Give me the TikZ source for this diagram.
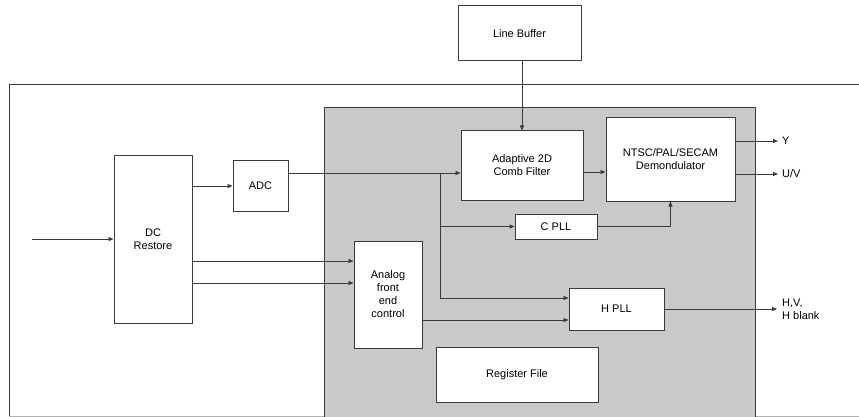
\documentclass[tikz,border=0pt]{standalone}
\usepackage{fontspec}
\setmainfont{Liberation Sans}
\usetikzlibrary{arrows.meta}
\definecolor{panel}{HTML}{C8C9CB}
\definecolor{ink}{HTML}{3A3A3A}
\tikzset{
  box/.style={draw=ink, line width=1pt, fill=white, rectangle, inner sep=0pt, align=center, font=\fontsize{11}{13}\selectfont},
  conn/.style={draw=ink, line width=0.8pt, -{Triangle[length=5pt,width=4pt]}},
  plain/.style={draw=ink, line width=0.8pt},
  lbl/.style={font=\fontsize{11}{13}\selectfont, inner sep=0pt, align=left, anchor=west}
}
\begin{document}
\begin{tikzpicture}[x=1pt,y=-1pt]
\useasboundingbox (0,0) rectangle (859,417);
% outer frame
\draw[ink, line width=1pt] (859,84.5) -- (9,84.5) -- (9,416);
\draw[gray!60, line width=1pt] (9,416) -- (859,416);
% grey panel
\fill[panel] (324,108) rectangle (755,417);
\draw[ink, line width=1pt] (324,417) -- (324,108) -- (755,108) -- (755,417);

\node[box, minimum width=78, minimum height=168] (dc) at (153,239) {DC\\Restore};
\node[box, minimum width=55, minimum height=51] (adc) at (260.5,185.5) {ADC};
\node[box, minimum width=68, minimum height=107] (afe) at (388,294.5) {Analog\\front\\end\\control};
\node[box, minimum width=123, minimum height=55] (lb) at (519.5,33.5) {Line Buffer};
\node[box, minimum width=122, minimum height=69] (comb) at (522,165.5) {Adaptive 2D\\Comb Filter};
\node[box, minimum width=129, minimum height=83] (ntsc) at (670.5,159.5) {NTSC/PAL/SECAM\\Demondulator};
\node[box, minimum width=82, minimum height=25] (cpll) at (556,226.5) {C PLL};
\node[box, minimum width=95, minimum height=42] (hpll) at (616.5,309) {H PLL};
\node[box, minimum width=162, minimum height=55] (reg) at (517,374.5) {Register File};

\coordinate (in) at (32,239);
\coordinate (br) at (440,173);
\coordinate (yout) at (778,141);
\coordinate (uvout) at (778,174);
\coordinate (hout) at (777,309);

\draw[conn] (in) -- (dc.west |- in);
\draw[conn] (dc.east |- 0,186) -- (adc.west |- 0,186);
\draw[conn] (adc.east |- br) -- (comb.west |- br);
\draw[conn] (br) |- (cpll.west);
\draw[conn] (br) |- (hpll.west |- 0,298);
\draw[conn] (comb.north |- lb.south) -- (comb.north);
\draw[conn] (comb.east |- 0,172) -- (ntsc.west |- 0,172);
\draw[conn] (cpll.east) -| (ntsc.south);
\draw[conn] (ntsc.east |- yout) -- (yout);
\draw[conn] (ntsc.east |- uvout) -- (uvout);
\draw[conn] (dc.east |- 0,261) -- (afe.west |- 0,261);
\draw[conn] (dc.east |- 0,283) -- (afe.west |- 0,283);
\draw[conn] (afe.east |- 0,320) -- (hpll.west |- 0,320);
\draw[conn] (hpll.east) -- (hout);

\node[lbl] (ylbl) at (782,141) {Y};
\node[lbl] (uvlbl) at (782,174) {U/V};
\node[lbl] (hlbl) at (782,309) {H,V,\\H blank};
\end{tikzpicture}
\end{document}
